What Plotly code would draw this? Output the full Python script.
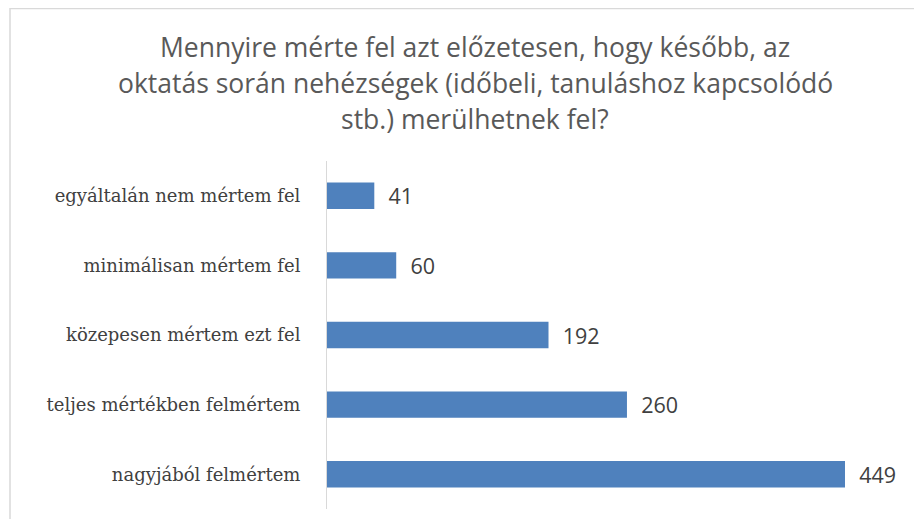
import plotly.graph_objects as go

categories = ["egyáltalán nem mértem fel", "minimálisan mértem fel", "közepesen mértem ezt fel",
              "teljes mértékben felmértem", "nagyjából felmértem"]
values = [41, 60, 192, 260, 449]
title_lines = ["Mennyire mérte fel azt előzetesen, hogy később, az",
               "oktatás során nehézségek (időbeli, tanuláshoz kapcsolódó",
               "stb.) merülhetnek fel?"]

# page body has an 8px default margin; lay out in figure coordinates
OFF = 8
W, H = 922 - OFF, 519 - OFF
L, T = 327 - OFF, 161 - OFF
R, B = 10, 10
pw, ph = W - L - R, H - T - B

def px_x(x):
    return (x - OFF - L) / pw

def px_y(y):
    return (H - B - (y - OFF)) / ph

xmax = pw / (518 / 449)

fig = go.Figure(go.Bar(
    x=values, y=categories, orientation="h",
    marker=dict(color="#4F81BD", line=dict(width=0)),
    text=values, texttemplate="\u00a0\u00a0%{text}", textposition="outside",
    constraintext="none",
    textfont=dict(family="Open Sans", size=21.5, color="#404040"),
    cliponaxis=False,
))

annotations = []
for i, line in enumerate(title_lines):
    annotations.append(dict(
        text=line, xref="paper", yref="paper", x=px_x(475), y=px_y(47 + i * 36),
        xanchor="center", yanchor="middle", showarrow=False,
        font=dict(family="Open Sans", size=26.5, color="#595959"),
    ))

fig.update_layout(
    width=W, height=H,
    margin=dict(l=L, r=R, t=T, b=B, autoexpand=False),
    paper_bgcolor="white", plot_bgcolor="white",
    showlegend=False,
    bargap=0.62,
    annotations=annotations,
    shapes=[dict(type="rect", xref="paper", yref="paper",
                 x0=px_x(10), x1=px_x(960), y0=px_y(560), y1=px_y(8.5),
                 line=dict(color="#d9d9d9", width=1.5), fillcolor="rgba(0,0,0,0)", layer="below")],
    xaxis=dict(range=[0, xmax], visible=False, fixedrange=True),
    yaxis=dict(categoryorder="array", categoryarray=categories[::-1],
               showline=True, linecolor="#d9d9d9", linewidth=1, showgrid=False,
               ticks="", ticklabelstandoff=22,
               tickfont=dict(family="DejaVu Serif", size=18, color="#404040")),
)

fig.write_html("out.html")
